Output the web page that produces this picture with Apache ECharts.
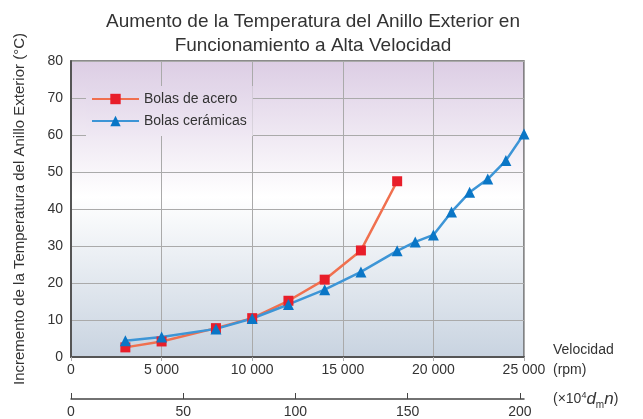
<!DOCTYPE html>
<html>
<head>
<meta charset="utf-8">
<style>html,body{margin:0;padding:0;background:#fff}#c{width:643px;height:419px}</style>
<script src="https://cdn.jsdelivr.net/npm/echarts@6/dist/echarts.min.js"></script>
</head>
<body>
<div id="c"></div>
<script>
var titleText = 'Aumento de la Temperatura del Anillo Exterior en\nFuncionamiento a Alta Velocidad';
var yName = 'Incremento de la Temperatura del Anillo Exterior (°C)';
var seriesNames = ['Bolas de acero', 'Bolas cerámicas'];
var steelSpeed = [3000, 5000, 8000, 10000, 12000, 14000, 16000, 18000];
var steelTemp = [2.6, 4.2, 7.8, 10.5, 15.2, 20.9, 28.8, 47.5];
var ceramicSpeed = [3000, 5000, 8000, 10000, 12000, 14000, 16000, 18000, 19000, 20000, 21000, 22000, 23000, 24000, 25000];
var ceramicTemp = [4.4, 5.4, 7.6, 10.4, 14.2, 18.2, 23.0, 28.7, 31.1, 33.0, 39.2, 44.5, 48.1, 53.1, 60.3];
var dmnTicks = [0, 50, 100, 150, 200];

function pairs(xs, ys) { return xs.map(function (x, i) { return [x, ys[i]]; }); }
function fmtThousands(v) {
  var s = String(v);
  return s.replace(/\B(?=(\d{3})+(?!\d))/g, ' ');
}

var chart = echarts.init(document.getElementById('c'));
var FONT = '"Liberation Sans", Arial, sans-serif';
var bg = new echarts.graphic.LinearGradient(0, 0, 0, 1, [
  { offset: 0, color: '#dccde4' },
  { offset: 0.46, color: '#ffffff' },
  { offset: 1, color: '#c8d3e0' }
]);
var legendBg = new echarts.graphic.LinearGradient(0, 0, 0, 1, [
  { offset: 0, color: '#e2d6e9' },
  { offset: 1, color: '#efe8f3' }
]);

chart.setOption({
  animation: false,
  textStyle: { fontFamily: FONT },
  title: {
    text: titleText,
    left: 308, top: 5, textAlign: 'center',
    textStyle: { fontFamily: FONT, fontSize: 19, fontWeight: 'normal', color: '#333', lineHeight: 24 }
  },
  legend: {
    left: 86, top: 86, orient: 'vertical',
    padding: [6, 6, 8, 5],
    itemWidth: 47, itemHeight: 13, itemGap: 8,
    backgroundColor: legendBg,
    textStyle: { fontSize: 14, color: '#333', fontFamily: FONT },
    data: seriesNames
  },
  grid: [
    { left: 71, right: 119, top: 61, bottom: 62, show: true, backgroundColor: bg, borderColor: '#666', borderWidth: 1.5, containLabel: false },
    { left: 71, right: 119, top: 398, height: 1, show: false }
  ],
  xAxis: [
    {
      type: 'value', gridIndex: 0, min: 0, max: 25000, interval: 5000,
      axisLine: { show: true, lineStyle: { color: '#555', width: 2 } },
      axisTick: { show: true, length: 4, lineStyle: { color: '#aaa' } },
      splitLine: { show: true, lineStyle: { color: '#aaa', width: 1 } },
      axisLabel: { fontSize: 14, color: '#333', margin: 6, formatter: fmtThousands }
    },
    {
      type: 'value', gridIndex: 1, min: 0, max: 201.8, position: 'bottom',
      axisLine: { show: true, lineStyle: { color: '#444', width: 1.5 } },
      axisTick: { show: true, inside: true, length: 6, customValues: dmnTicks, lineStyle: { color: '#444' } },
      splitLine: { show: false },
      axisLabel: { fontSize: 14, color: '#333', margin: 6, customValues: dmnTicks }
    }
  ],
  yAxis: [
    {
      type: 'value', gridIndex: 0, min: 0, max: 80, interval: 10,
      name: yName, nameLocation: 'middle', nameGap: 44,
      nameTextStyle: { fontSize: 15, color: '#333' },
      axisLine: { show: true, lineStyle: { color: '#555', width: 2 } },
      axisTick: { show: false },
      splitLine: { show: true, lineStyle: { color: '#aaa', width: 1 } },
      axisLabel: { fontSize: 14, color: '#333', margin: 8 }
    },
    { type: 'value', gridIndex: 1, show: false }
  ],
  series: [
    {
      name: seriesNames[0], type: 'line', xAxisIndex: 0, yAxisIndex: 0,
      data: pairs(steelSpeed, steelTemp),
      symbol: 'rect', symbolSize: 10,
      lineStyle: { color: '#f0704f', width: 2.5 },
      itemStyle: { color: '#e81e2a' }
    },
    {
      name: seriesNames[1], type: 'line', xAxisIndex: 0, yAxisIndex: 0,
      data: pairs(ceramicSpeed, ceramicTemp),
      symbol: 'triangle', symbolSize: 11,
      lineStyle: { color: '#3d95d6', width: 2.5 },
      itemStyle: { color: '#0a76c6' }
    }
  ],
  graphic: [
    { type: 'text', left: 553, top: 343, style: { text: 'Velocidad', fontSize: 14, fill: '#333', fontFamily: FONT } },
    { type: 'text', left: 553, top: 363, style: { text: '(rpm)', fontSize: 14, fill: '#333', fontFamily: FONT } },
    { type: 'text', left: 553, top: 388, style: {
        text: '(×10{sup|4}{it|d}{sub|m}{it|n})',
        fontSize: 14, fill: '#333', fontFamily: FONT, lineHeight: 22,
        rich: {
          sup: { fontSize: 9, verticalAlign: 'top', fill: '#333', lineHeight: 22, padding: [3, 0, 0, 0] },
          sub: { fontSize: 10, verticalAlign: 'bottom', fill: '#333', lineHeight: 22, padding: [0, 0, 0, 0] },
          it: { fontSize: 17, fontStyle: 'italic', fill: '#333', lineHeight: 22 }
        }
      } }
  ]
});
</script>
</body>
</html>
